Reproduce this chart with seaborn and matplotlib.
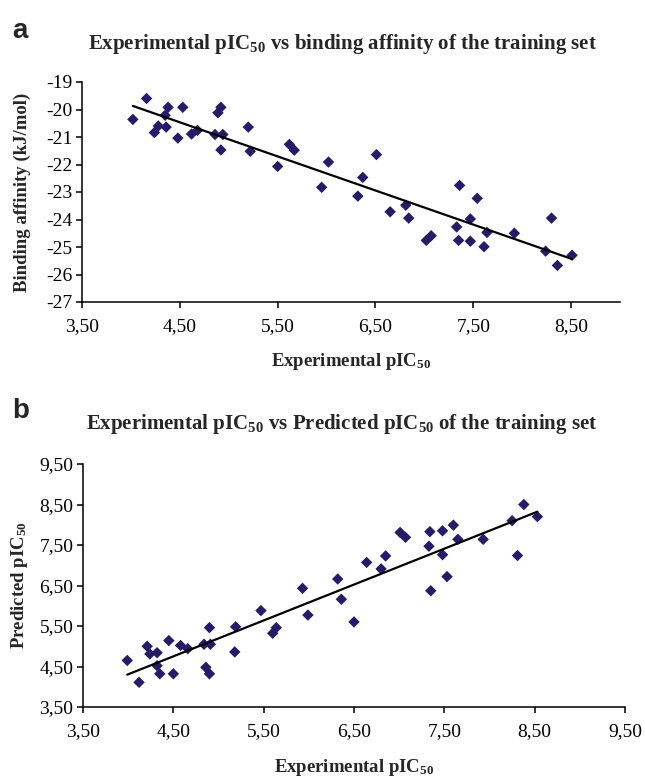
import seaborn as sns
import matplotlib.pyplot as plt
import pandas as pd

# panel a: experimental pIC50 vs binding affinity
exp_a = [4.02, 4.16, 4.38, 4.53, 4.35, 4.28, 4.36, 4.24, 4.48, 4.62, 4.68, 4.86,
         4.94, 4.92, 4.89, 4.92, 5.20, 5.22, 5.50, 5.62, 5.67, 6.02, 5.95, 6.32,
         6.51, 6.37, 6.65, 6.81, 6.84, 7.02, 7.07, 7.36, 7.33, 7.35, 7.47, 7.47,
         7.54, 7.61, 7.64, 7.92, 8.30, 8.24, 8.36, 8.51]
affinity = [-20.36, -19.60, -19.92, -19.92, -20.21, -20.60, -20.64, -20.84, -21.04,
            -20.89, -20.76, -20.91, -20.91, -21.47, -20.12, -19.92, -20.64, -21.52,
            -22.07, -21.27, -21.48, -21.91, -22.83, -23.15, -21.64, -22.47, -23.72,
            -23.48, -23.95, -24.76, -24.59, -22.76, -24.27, -24.76, -23.98, -24.79,
            -23.23, -24.99, -24.47, -24.50, -23.95, -25.15, -25.67, -25.30]

# panel b: experimental vs predicted pIC50
exp_b = [3.99, 4.12, 4.21, 4.24, 4.32, 4.32, 4.35, 4.45, 4.50, 4.58, 4.66, 4.84,
         4.86, 4.90, 4.90, 4.91, 5.18, 5.19, 5.47, 5.60, 5.64, 5.93, 5.99, 6.32,
         6.36, 6.50, 6.64, 6.80, 6.85, 7.01, 7.07, 7.34, 7.33, 7.35, 7.48, 7.48,
         7.53, 7.60, 7.65, 7.93, 8.25, 8.31, 8.38, 8.53]
predicted = [4.65, 4.11, 5.00, 4.81, 4.84, 4.52, 4.32, 5.14, 4.32, 5.02, 4.94, 5.05,
             4.48, 4.32, 5.46, 5.05, 4.86, 5.48, 5.88, 5.32, 5.46, 6.43, 5.77, 6.66,
             6.16, 5.60, 7.07, 6.91, 7.23, 7.81, 7.69, 7.83, 7.47, 6.37, 7.85, 7.26,
             6.72, 7.99, 7.64, 7.64, 8.10, 7.24, 8.50, 8.20]

xticks_a = [3.5, 4.5, 5.5, 6.5, 7.5, 8.5]
xticklabels_a = ["3,50", "4,50", "5,50", "6,50", "7,50", "8,50"]
yticks_a = [-19, -20, -21, -22, -23, -24, -25, -26, -27]
yticklabels_a = ["-19", "-20", "-21", "-22", "-23", "-24", "-25", "-26", "-27"]
ticks_b = [3.5, 4.5, 5.5, 6.5, 7.5, 8.5, 9.5]
ticklabels_b = ["3,50", "4,50", "5,50", "6,50", "7,50", "8,50", "9,50"]

df_a = pd.DataFrame({"exp": exp_a, "aff": affinity})
df_b = pd.DataFrame({"exp": exp_b, "pred": predicted})

sns.set_style("ticks")
plt.rcParams["font.family"] = ["Liberation Serif", "DejaVu Serif"]
plt.rcParams["mathtext.default"] = "regular"

W, H = 645, 779
fig = plt.figure(figsize=(W / 100, H / 100), dpi=100)

def px_axes(x0, x1, y0, y1):
    # pixel box -> figure fraction
    return fig.add_axes([x0 / W, 1 - y1 / H, (x1 - x0) / W, (y1 - y0) / H])

ax_a = px_axes(82, 620, 82, 302)
ax_b = px_axes(83, 625, 464, 707)

pt_col = "#241C68"
for ax, d, xc, yc in [(ax_a, df_a, "exp", "aff"), (ax_b, df_b, "exp", "pred")]:
    sns.regplot(data=d, x=xc, y=yc, ax=ax, ci=None, marker="D",
                scatter_kws=dict(s=34, color=pt_col, edgecolor="none", alpha=1),
                line_kws=dict(color="black", lw=1.6))
    for s in ["top", "right"]:
        ax.spines[s].set_visible(False)
    for s in ["left", "bottom"]:
        ax.spines[s].set_color("black")
        ax.spines[s].set_linewidth(1.1)
    ax.tick_params(direction="out", length=4.3, width=1.1, colors="black",
                   labelsize=14)
    ax.tick_params(axis="x", pad=7)
    ax.tick_params(axis="y", pad=2.5)

ax_a.set_xlim(3.5, 9.0)
ax_a.set_ylim(-27, -19)
ax_a.set_xticks(xticks_a, xticklabels_a)
ax_a.set_yticks(yticks_a, yticklabels_a)

ax_b.set_xlim(3.5, 9.5)
ax_b.set_ylim(3.5, 9.5)
ax_b.set_xticks(ticks_b, ticklabels_b)
ax_b.set_yticks(ticks_b, ticklabels_b)

lab = dict(fontsize=13.5, fontweight="bold")
ax_a.set_xlabel("Experimental pIC$_{50}$", **lab)
ax_a.set_ylabel("Binding affinity (kJ/mol)", **lab)
ax_b.set_xlabel("Experimental pIC$_{50}$", **lab)
ax_b.set_ylabel("Predicted pIC$_{50}$", **lab)
ax_a.xaxis.set_label_coords(0.5, -0.225)
ax_a.yaxis.set_label_coords(-0.095, 0.5)
ax_b.xaxis.set_label_coords(0.5, -0.205)
ax_b.yaxis.set_label_coords(-0.098, 0.5)

fig.text(342 / W, 1 - 44 / H, "Experimental pIC$_{50}$ vs binding affinity of the training set",
         ha="center", va="center", fontsize=15, fontweight="bold")
fig.text(342 / W, 1 - 424 / H, "Experimental pIC$_{50}$ vs Predicted pIC$_{50}$ of the training set",
         ha="center", va="center", fontsize=15, fontweight="bold")
fig.text(12 / W, 1 - 31 / H, "a", ha="left", va="center", fontsize=20,
         fontweight="bold", family="Liberation Sans")
fig.text(12 / W, 1 - 411 / H, "b", ha="left", va="center", fontsize=20,
         fontweight="bold", family="Liberation Sans")

fig.savefig("out.png", dpi=100, facecolor="white")
